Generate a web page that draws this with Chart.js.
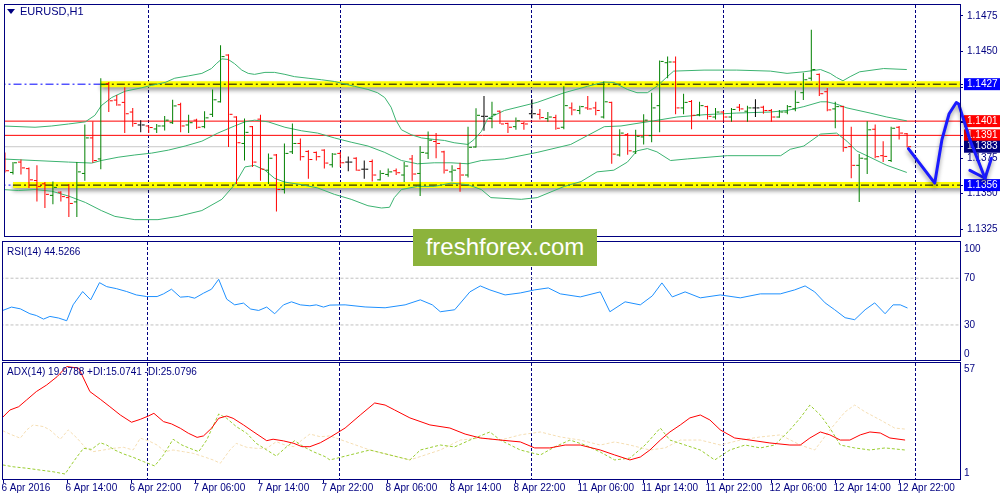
<!DOCTYPE html>
<html>
<head>
<meta charset="utf-8">
<script src="https://cdn.jsdelivr.net/npm/chart.js@4/dist/chart.umd.min.js"></script>
<style>
    html, body { margin: 0; padding: 0; background: #fff; }
    #wrap { position: relative; width: 1000px; height: 500px; overflow: hidden; font-family: "Liberation Sans", Arial, sans-serif; }
    #wrap canvas { position: absolute; left: 0; }
    .lbl { position: absolute; left: 7px; font-size: 10px; color: #000080; white-space: nowrap; line-height: 12px; }
    .tri { display: inline-block; width: 0; height: 0; border-left: 4px solid transparent; border-right: 4px solid transparent; border-top: 5px solid #000080; margin-right: 5px; vertical-align: 1px; }
    #wm { position: absolute; left: 413px; top: 229px; width: 184px; height: 37px; background: #8cb33c; color: #fff; font-size: 24px; line-height: 36px; text-align: center; z-index: 5; }
</style>
</head>
<body>
<div id="wrap">
    <canvas id="main" width="1000" height="241" style="top:0"></canvas>
    <canvas id="rsi" width="1000" height="120" style="top:241px"></canvas>
    <canvas id="adx" width="1000" height="138" style="top:362px"></canvas>
    <div class="lbl" style="top:5px;font-size:11px"><span class="tri"></span>EURUSD,H1</div>
    <div class="lbl" style="top:246px">RSI(14) 44.5266</div>
    <div class="lbl" style="top:366px">ADX(14) 19.9788 +DI:15.0741 -DI:25.0796</div>
    <div id="wm">freshforex.com</div>
</div>
<script>
(function () {
    "use strict";

    // EURUSD H1, bar 0 = 6 Apr 06:00, last bar = 12 Apr 23:00
    var open = [
        1.13767, 1.13649, 1.13722, 1.13676, 1.13592, 1.13569, 1.13488, 1.13510, 1.13472, 1.13442,
        1.13642, 1.13892, 1.13744, 1.14273, 1.14158, 1.14142, 1.14074, 1.13983, 1.13976, 1.13955,
        1.13976, 1.13999, 1.14126, 1.13983, 1.14017, 1.13971, 1.14058, 1.14146, 1.14475, 1.14039,
        1.13853, 1.13971, 1.14024, 1.13665, 1.13772, 1.13529, 1.13794, 1.13853, 1.13797, 1.13790,
        1.13806, 1.13703, 1.13783, 1.13722, 1.13749, 1.13672, 1.13726, 1.13597, 1.13635, 1.13661,
        1.13631, 1.13744, 1.13642, 1.13785, 1.13867, 1.13794, 1.13653, 1.13676, 1.13631, 1.13828,
        1.14044, 1.14028, 1.14080, 1.13994, 1.13971, 1.13994, 1.14062, 1.14058, 1.14028, 1.14035,
        1.13967, 1.14103, 1.14085, 1.14103, 1.14103, 1.14039, 1.14142, 1.13772, 1.13915, 1.13794,
        1.13899, 1.13908, 1.14119, 1.14421, 1.14426, 1.14103, 1.14148, 1.14055, 1.14112, 1.14039,
        1.14074, 1.14039, 1.14108, 1.14080, 1.14103, 1.14108, 1.14085, 1.14039, 1.14074, 1.14096,
        1.14210, 1.14312, 1.14339, 1.14217, 1.14096, 1.14112, 1.13831, 1.13699, 1.13744, 1.13953,
        1.13767, 1.13733, 1.13967, 1.13921
    ];
    var high = [
        1.13790, 1.13722, 1.13740, 1.13683, 1.13699, 1.13581, 1.13585, 1.13517, 1.13567, 1.13722,
        1.13987, 1.14008, 1.14312, 1.14285, 1.14194, 1.14248, 1.14103, 1.14017, 1.13980, 1.13990,
        1.14046, 1.14160, 1.14139, 1.14055, 1.14026, 1.14080, 1.14233, 1.14544, 1.14480, 1.14044,
        1.14028, 1.13976, 1.14055, 1.13783, 1.13778, 1.13853, 1.13994, 1.13887, 1.13806, 1.13797,
        1.13812, 1.13785, 1.13794, 1.13762, 1.13756, 1.13733, 1.13740, 1.13665, 1.13676, 1.13676,
        1.13722, 1.13772, 1.13835, 1.13937, 1.13926, 1.13801, 1.13699, 1.13717, 1.13971, 1.14101,
        1.14187, 1.14146, 1.14085, 1.13999, 1.14035, 1.14005, 1.14164, 1.14096, 1.14074, 1.14055,
        1.14255, 1.14142, 1.14119, 1.14187, 1.14146, 1.14289, 1.14146, 1.13953, 1.13926, 1.13949,
        1.14058, 1.14210, 1.14437, 1.14464, 1.14464, 1.14203, 1.14158, 1.14146, 1.14119, 1.14103,
        1.14080, 1.14103, 1.14130, 1.14119, 1.14164, 1.14119, 1.14096, 1.14089, 1.14124, 1.14226,
        1.14351, 1.14653, 1.14346, 1.14244, 1.14146, 1.14119, 1.13971, 1.13778, 1.14010, 1.13987,
        1.13869, 1.13971, 1.13976, 1.13926
    ];
    var low = [
        1.13649, 1.13635, 1.13635, 1.13540, 1.13445, 1.13399, 1.13426, 1.13445, 1.13336, 1.13336,
        1.13590, 1.13717, 1.13672, 1.14074, 1.14119, 1.13926, 1.13971, 1.13931, 1.13926, 1.13926,
        1.13944, 1.13990, 1.13931, 1.13926, 1.13955, 1.13960, 1.14039, 1.14142, 1.13828, 1.13567,
        1.13733, 1.13688, 1.13590, 1.13567, 1.13374, 1.13501, 1.13778, 1.13733, 1.13604, 1.13733,
        1.13676, 1.13683, 1.13688, 1.13658, 1.13661, 1.13604, 1.13585, 1.13592, 1.13619, 1.13631,
        1.13581, 1.13590, 1.13483, 1.13744, 1.13749, 1.13642, 1.13585, 1.13513, 1.13613, 1.13824,
        1.13942, 1.13960, 1.13990, 1.13926, 1.13949, 1.13949, 1.14028, 1.14021, 1.14005, 1.13949,
        1.13953, 1.14051, 1.14058, 1.14089, 1.14051, 1.14028, 1.13710, 1.13762, 1.13774, 1.13778,
        1.13846, 1.13862, 1.13931, 1.14312, 1.14058, 1.14058, 1.13953, 1.14044, 1.14021, 1.14021,
        1.14017, 1.14005, 1.14080, 1.14005, 1.14039, 1.14062, 1.14005, 1.14033, 1.14058, 1.14080,
        1.14158, 1.14294, 1.14187, 1.14080, 1.13960, 1.13794, 1.13608, 1.13442, 1.13638, 1.13749,
        1.13722, 1.13722, 1.13881, 1.13824
    ];
    var close = [
        1.13661, 1.13717, 1.13681, 1.13597, 1.13551, 1.13495, 1.13544, 1.13479, 1.13431, 1.13653,
        1.13892, 1.13733, 1.14267, 1.14153, 1.14124, 1.14062, 1.13994, 1.13983, 1.13965, 1.13976,
        1.14017, 1.14117, 1.13976, 1.13999, 1.13967, 1.14033, 1.14160, 1.14464, 1.14058, 1.13858,
        1.13931, 1.13722, 1.13672, 1.13749, 1.13529, 1.13783, 1.13853, 1.13760, 1.13740, 1.13760,
        1.13715, 1.13778, 1.13717, 1.13722, 1.13665, 1.13672, 1.13631, 1.13642, 1.13653, 1.13647,
        1.13694, 1.13638, 1.13790, 1.13876, 1.13853, 1.13665, 1.13665, 1.13631, 1.13826, 1.14051,
        1.14044, 1.14058, 1.13990, 1.13967, 1.14012, 1.13990, 1.14062, 1.14035, 1.14039, 1.13960,
        1.14119, 1.14089, 1.14112, 1.14096, 1.14085, 1.14146, 1.13778, 1.13926, 1.13801, 1.13903,
        1.14017, 1.14103, 1.14430, 1.14426, 1.14103, 1.14142, 1.14051, 1.14119, 1.14044, 1.14074,
        1.14039, 1.14092, 1.14096, 1.14103, 1.14103, 1.14085, 1.14039, 1.14074, 1.14112, 1.14142,
        1.14301, 1.14373, 1.14203, 1.14089, 1.14112, 1.13824, 1.13699, 1.13749, 1.13949, 1.13760,
        1.13762, 1.13960, 1.13926, 1.13830
    ];

    // Bollinger bands as [bar, price]
    var bbUpper = [
        [-0.4, 1.13976], [3.7, 1.13967], [5.8, 1.13976], [7.9, 1.13990], [10, 1.14005], [11.2, 1.14051],
        [12, 1.14119], [13.3, 1.14176], [15, 1.14221], [17, 1.14244], [18.3, 1.14262], [20, 1.14282],
        [21.2, 1.14312], [22.9, 1.14328], [24.6, 1.14346], [25.8, 1.14380], [26.4, 1.14414], [27.1, 1.14448],
        [27.9, 1.14444], [28.7, 1.14414], [29.6, 1.14369], [30.4, 1.14346], [31.2, 1.14339], [32.5, 1.14353],
        [33.7, 1.14353], [35, 1.14339], [36.2, 1.14323], [37.9, 1.14312], [39.6, 1.14301], [41.2, 1.14289],
        [42, 1.14278], [43.7, 1.14255], [45.4, 1.14233], [46.6, 1.14210], [47.5, 1.14176], [48.3, 1.14108],
        [48.9, 1.14017], [49.6, 1.13949], [50.8, 1.13915], [52.1, 1.13892], [53.7, 1.13881], [55, 1.13874],
        [56.2, 1.13858], [57.9, 1.13846], [58.7, 1.13881], [59.6, 1.13937], [60.4, 1.14028], [62.5, 1.14085],
        [66.6, 1.14142], [70, 1.14210], [72.9, 1.14255], [75, 1.14285], [76.2, 1.14282], [77.9, 1.14233],
        [79.1, 1.14210], [80.4, 1.14210], [81.6, 1.14255], [82.9, 1.14323], [83.7, 1.14362], [87.5, 1.14369],
        [91.6, 1.14369], [95.8, 1.14362], [97.9, 1.14346], [100, 1.14357], [102.1, 1.14373], [103.3, 1.14346],
        [104.1, 1.14317], [104.9, 1.14294], [105.8, 1.14323], [107, 1.14357], [110, 1.14380], [112.9, 1.14373]
    ];
    var bbMiddle = [
        [-0.4, 1.13744], [3.7, 1.13733], [7.9, 1.13722], [10.8, 1.13715], [12, 1.13733], [14.1, 1.13756],
        [16.2, 1.13772], [18.3, 1.13785], [20.4, 1.13806], [22.5, 1.13835], [24.6, 1.13869], [26.6, 1.13926],
        [28.7, 1.13976], [30, 1.14005], [31.2, 1.14017], [32.9, 1.14005], [35, 1.13967], [37.1, 1.13942],
        [39.1, 1.13926], [41.2, 1.13892], [43.3, 1.13862], [45.4, 1.13835], [47.5, 1.13790], [49.6, 1.13733],
        [51.6, 1.13710], [53.7, 1.13717], [55.8, 1.13717], [57.9, 1.13710], [59.6, 1.13733], [62.5, 1.13744],
        [66.6, 1.13790], [70.8, 1.13846], [75, 1.13971], [77.1, 1.13976], [79.1, 1.13994], [81.2, 1.14012],
        [84.1, 1.14039], [87.5, 1.14055], [91.6, 1.14067], [95.8, 1.14074], [97.9, 1.14085], [100, 1.14112],
        [102.1, 1.14146], [102.9, 1.14146], [104.1, 1.14130], [105.4, 1.14103], [108.3, 1.14067],
        [110.4, 1.14039], [112.9, 1.14012]
    ];
    var bbLower = [
        [-0.4, 1.13529], [1.6, 1.13522], [3.7, 1.13529], [5.8, 1.13517], [7.9, 1.13483], [10, 1.13438],
        [12, 1.13381], [13.7, 1.13340], [16.2, 1.13317], [19.1, 1.13317], [21.6, 1.13340], [24.6, 1.13381],
        [27.1, 1.13460], [28.7, 1.13563], [30, 1.13688], [31.2, 1.13699], [32.5, 1.13665], [33.7, 1.13608],
        [35, 1.13581], [37.1, 1.13563], [39.1, 1.13540], [41.2, 1.13495], [43.3, 1.13460], [45.4, 1.13415],
        [47.1, 1.13399], [48.1, 1.13404], [48.7, 1.13472], [49.6, 1.13529], [51.6, 1.13551], [53.7, 1.13551],
        [55.8, 1.13574], [57.9, 1.13563], [59.6, 1.13529], [60.8, 1.13472], [64.6, 1.13460], [66.6, 1.13472],
        [70, 1.13551], [72.1, 1.13585], [74.1, 1.13653], [76.2, 1.13665], [77.9, 1.13722], [79.1, 1.13801],
        [80.4, 1.13817], [81.6, 1.13794], [83.3, 1.13733], [85.4, 1.13744], [90.4, 1.13767], [97.1, 1.13767],
        [98.3, 1.13812], [100, 1.13835], [102.1, 1.13919], [104.1, 1.13926], [105.4, 1.13869],
        [106.6, 1.13801], [108.3, 1.13756], [110.4, 1.13699], [112.9, 1.13649]
    ];

    var rsi = [
        [-0.1, 42.4], [1, 45.3], [2.1, 43.8], [3.3, 39.6], [4.1, 38.1], [5, 35], [5.8, 37.3], [6.9, 35.9],
        [7.9, 33.6], [8.7, 47.2], [9.9, 58.6], [10.9, 51.5], [12, 66.2], [12.9, 62.8], [14.1, 61.1],
        [15.4, 58.6], [16.6, 55.7], [17.9, 54.3], [19.2, 54.3], [20, 56.6], [21, 60.6], [22.1, 53.8],
        [23.1, 54.3], [23.9, 52.9], [25, 57.2], [26, 60.6], [26.9, 69.1], [27.9, 52.1], [28.9, 47.2],
        [30, 48.7], [30.9, 43.6], [31.9, 42.4], [32.9, 45.3], [33.9, 39.6], [35, 47.2], [36, 49.8],
        [37.1, 47.2], [38.3, 46.4], [39.1, 47.2], [40, 45.3], [40.8, 47], [42.7, 47.2], [45.2, 45.4],
        [47.7, 44.7], [50.2, 47.2], [52.1, 51.5], [53.6, 47.2], [54.6, 41.3], [56.4, 43], [58.3, 58.3],
        [59.6, 63.4], [60.8, 60], [62.7, 55.7], [64.6, 57.4], [66.4, 60], [68.1, 61.7], [69.6, 56.6],
        [72.1, 54], [74.6, 58.3], [75.8, 41.3], [77.7, 49.8], [79.6, 47.2], [81.1, 54.9], [82.3, 66],
        [83.6, 54], [85.2, 58.3], [87.1, 53.2], [89.6, 55.7], [92.1, 53.2], [94.6, 56.6], [97.1, 56.6],
        [98.9, 60], [100.2, 63.4], [101.4, 58.3], [102.7, 48.9], [103.9, 43], [105.2, 36.2], [106.4, 34.5],
        [107.7, 43], [108.9, 48.9], [110.2, 39.6], [111.2, 47.2], [112.1, 47.2], [113, 44.5]
    ];
    var adx = [
        [-0.1, 30.8], [0.8, 34.3], [1.9, 35.9], [2.9, 39.2], [4.1, 43.2], [5.4, 46.4], [6.7, 50.4],
        [7.9, 55.3], [9.4, 54.5], [10.8, 43.2], [12.1, 39.5], [13.3, 35.9], [14.6, 31.9], [16, 28.4],
        [17.1, 29.8], [18.1, 31.4], [18.8, 32.7], [20, 28.7], [21, 27.6], [22.1, 25.5], [23.1, 23.1],
        [24.2, 21.1], [25, 21.8], [26, 25.5], [26.9, 30.3], [27.9, 31.4], [28.7, 30.3], [30, 27.1],
        [31.2, 23.9], [32.9, 19.5], [33.7, 20.2], [35, 19.4], [36.3, 18.2], [37.3, 16.6], [38.3, 16.6],
        [39.6, 18.5], [40.8, 21.1], [42.7, 25.6], [44.6, 31.9], [46.4, 37.7], [47.7, 36.7], [48.9, 34.3],
        [50.8, 30.5], [53.3, 27.1], [55.8, 25.6], [57.7, 22.7], [59.6, 20.8], [62.1, 19.8], [64.6, 18.9],
        [66.4, 16], [68.3, 16], [70.2, 17.4], [72.1, 17.4], [74.6, 15], [76.4, 12.6], [78.3, 10.2],
        [79.6, 11.6], [80.8, 15], [82.1, 19.8], [83.3, 23.7], [84.6, 27.1], [85.8, 30.5], [87.1, 31.9],
        [88.3, 29.5], [89.6, 24.7], [91.4, 20.8], [93.3, 19.8], [95.8, 18.4], [98.3, 17.4], [99.6, 17.4],
        [100.8, 20.8], [102.1, 23.7], [103.3, 22.3], [104.6, 19.8], [105.8, 19.8], [107.1, 22.3],
        [108.3, 23.7], [109.6, 23.2], [110.8, 20.8], [112.7, 19.8]
    ];
    var plusDI = [
        [-0.1, 7.8], [1.2, 6.9], [2.9, 6.2], [4.6, 5.3], [6.2, 4.5], [7.7, 3.4], [8.3, 6.9], [9.2, 11.8],
        [10, 15.8], [11, 15.3], [12.1, 18.5], [12.9, 17.4], [13.9, 15], [15, 13.1], [16.2, 11.5], [17.5, 9.4],
        [18.9, 7.3], [20, 12.6], [21.2, 20.2], [22.3, 17.4], [23.3, 15.8], [24.4, 14.2], [25.4, 19.8],
        [26.9, 32.4], [27.9, 30.3], [29.1, 26.3], [30.4, 23.1], [31.6, 18.2], [32.9, 15], [34.1, 12.1],
        [35.4, 16.6], [36.4, 19.5], [37.5, 16.6], [38.7, 14.2], [40.2, 11.8], [40.8, 10.2], [43.3, 12.6],
        [45.8, 15], [48.3, 12.6], [50.8, 10.2], [52.1, 15], [54.6, 17.4], [56.4, 16.5], [58.3, 19.8],
        [60.8, 23.7], [62.1, 19.8], [64.6, 15], [67.1, 12.6], [68.9, 16.5], [70.8, 19.8], [72.7, 17.4],
        [74.6, 14], [76.4, 10.2], [78.3, 11.1], [80.2, 17.4], [82.1, 25.6], [83.3, 19.8], [85.2, 17.4],
        [87.1, 15], [88.9, 10.2], [90.8, 15], [92.7, 17.4], [94.6, 16], [96.4, 17.4], [98.3, 24.7],
        [99.6, 30.5], [100.8, 36.7], [102.1, 31.9], [103.3, 25.6], [104.6, 17.4], [106.4, 16], [108.3, 15],
        [110.2, 16], [112.7, 15]
    ];
    var minusDI = [
        [-0.1, 24.3], [0.8, 22.7], [2.1, 20.7], [2.9, 24.7], [3.7, 27.1], [5, 26.3], [5.8, 24.7],
        [7.1, 20.2], [8.1, 24.7], [9.2, 20.7], [10.2, 16.3], [11.2, 14.2], [12.5, 15], [13.7, 15.8],
        [15, 16.3], [16.2, 15], [17.1, 20.7], [18.1, 19.5], [19.2, 17.4], [20.2, 14.2], [21.2, 15],
        [22.5, 14.2], [23.7, 13.4], [25, 11.8], [26.2, 10.2], [27.1, 8.6], [28.3, 15], [29.1, 18.2],
        [30.4, 16.3], [31.6, 15.8], [32.9, 15.8], [34.1, 19], [35.2, 17.4], [36.3, 16.6], [37.3, 19.8],
        [38.3, 22.7], [39.6, 21.4], [40.8, 21.8], [43.3, 18.4], [45.8, 15], [48.3, 12.6], [50.8, 10.2],
        [52.7, 12.6], [54.6, 15], [57.1, 19.8], [59.6, 20.8], [62.1, 19.8], [64.6, 22.3], [67.1, 23.7],
        [69.6, 21.3], [72.1, 19.8], [74.6, 17.4], [76.4, 18.9], [78.3, 17.4], [80.8, 15], [82.7, 16],
        [84.6, 19.8], [87.1, 19.8], [89.6, 17.4], [92.1, 19.8], [94.6, 21.3], [97.1, 22.3], [99.6, 17.4],
        [101.4, 15], [103.3, 24.7], [105.2, 33.4], [106.4, 36.7], [107.7, 33.4], [109.6, 29.5],
        [111.4, 25.6], [112.7, 25.1]
    ];

    // analyst drawings
    var bandLevels = [1.1427, 1.1356];
    var bandStartBar = [12, 1];
    var redLevels = [1.1401, 1.1391];
    var bidLevel = 1.1383;
    var arrowPath = [
        [113.1, 1.13817], [116.4, 1.13574], [117.3, 1.13880], [118.2, 1.14062], [119.1, 1.14141],
        [119.4, 1.14130], [120.8, 1.13880], [122.7, 1.13608]
    ];
    var arrowHead = [[120.8, 1.13664], [122.7, 1.13608], [123.5, 1.13749]];

    var priceTicks = [1.1325, 1.1350, 1.1375, 1.1400, 1.1425, 1.1450, 1.1475];
    var markTicks = [1.1427, 1.1401, 1.1391, 1.1383, 1.1356];
    var rsiTicks = [0, 30, 70, 100];
    var adxTicks = [1, 57];
    var xTickBars = [0, 8, 16, 24, 32, 40, 48, 56, 64, 72, 80, 88, 96, 104, 112];
    var xTickLabels = [
        "6 Apr 2016", "6 Apr 14:00", "6 Apr 22:00", "7 Apr 06:00", "7 Apr 14:00", "7 Apr 22:00",
        "8 Apr 06:00", "8 Apr 14:00", "8 Apr 22:00", "11 Apr 06:00", "11 Apr 14:00", "11 Apr 22:00",
        "12 Apr 06:00", "12 Apr 14:00", "12 Apr 22:00"
    ];
    var dayStarts = [18, 42, 66, 90, 114];

    var NAVY = "#000080";
    var X_MIN = -0.0625, X_MAX = 119.5625;
    var FONT = { family: "'Liberation Sans', Arial, sans-serif", size: 10, lineHeight: 1 };
    var markColors = ["#0000ff", "#ff0000", "#ff0000", "#000080", "#0000ff"];

    function pts(arr) {
        return arr.map(function (p) { return { x: p[0], y: p[1] }; });
    }
    function barColor(i) {
        if (close[i] > open[i]) return "#008000";
        if (close[i] < open[i]) return "#ff0000";
        return "#000000";
    }
    function hline(v, from, color, width, dash, order, extra) {
        var ds = {
            type: "line",
            data: [{ x: from, y: v }, { x: 300, y: v }],
            borderColor: color,
            borderWidth: width,
            borderDash: dash || [],
            pointRadius: 0,
            order: order
        };
        return Object.assign(ds, extra || {});
    }
    // keep the panels edge to edge: no extra room reserved for half labels
    function noPad(s) {
        s.paddingTop = 0;
        s.paddingBottom = 0;
        s.paddingLeft = 0;
        s.paddingRight = 0;
    }
    function yFit(s) {
        s.width = 40;
        noPad(s);
    }
    function xScale(show) {
        return {
            type: "linear",
            min: X_MIN,
            max: X_MAX,
            offset: false,
            display: show,
            grid: { display: show, drawOnChartArea: false, drawTicks: true, tickLength: 4, tickColor: NAVY, offset: false },
            border: { display: show, color: NAVY },
            afterBuildTicks: function (s) {
                s.ticks = xTickBars.map(function (v) { return { value: v }; });
            },
            afterFit: function (s) {
                if (show) s.height = 21;
                noPad(s);
            },
            ticks: {
                autoSkip: false,
                maxRotation: 0,
                align: "start",
                labelOffset: -2,
                padding: 0,
                color: NAVY,
                font: FONT,
                callback: function (v, i) { return xTickLabels[i]; }
            }
        };
    }
    // labels at the panel edges sit ~6px inside, as the terminal draws them
    function insetTicks(vals, panelPx) {
        return function (s) {
            var per = (s.max - s.min) / panelPx;
            s.ticks = vals.map(function (v, i) {
                var t = v;
                if (i === 0) t = v + 6 * per;
                if (i === vals.length - 1) t = v - 6 * per;
                return { value: t };
            });
        };
    }

    var shadowPlugin = {
        id: "shadow",
        beforeDatasetDraw: function (chart, args) {
            var ds = chart.data.datasets[args.index];
            if (!ds.shadow) return;
            var ctx = chart.ctx;
            ctx.save();
            ctx.shadowColor = "rgba(0,0,0,0.4)";
            ctx.shadowBlur = 4;
            ctx.shadowOffsetY = 3;
        },
        afterDatasetDraw: function (chart, args) {
            if (chart.data.datasets[args.index].shadow) chart.ctx.restore();
        }
    };
    var framePlugin = {
        id: "frame",
        beforeDatasetsDraw: function (chart) {
            var a = chart.chartArea, ctx = chart.ctx, x = chart.scales.x;
            ctx.save();
            ctx.strokeStyle = NAVY;
            ctx.lineWidth = 1;
            ctx.setLineDash([3, 2]);
            dayStarts.forEach(function (d) {
                var px = Math.round(x.getPixelForValue(d)) - 0.5;
                ctx.beginPath();
                ctx.moveTo(px, a.top);
                ctx.lineTo(px, a.bottom);
                ctx.stroke();
            });
            ctx.restore();
        },
        afterDraw: function (chart) {
            var a = chart.chartArea, ctx = chart.ctx;
            ctx.save();
            ctx.strokeStyle = NAVY;
            ctx.lineWidth = 1;
            ctx.strokeRect(Math.round(a.left) - 0.5, Math.round(a.top) - 0.5,
                Math.round(a.right - a.left) + 1, Math.round(a.bottom - a.top) + 1);
            ctx.restore();
        }
    };

    var common = {
        responsive: false,
        animation: false,
        events: [],
        plugins: { legend: { display: false }, tooltip: { enabled: false } }
    };

    // main price panel
    var idx = close.map(function (c, i) { return i; });
    var mainSets = [
        {
            type: "bar",
            data: idx.map(function (i) { return { x: i, y: [low[i], high[i]] }; }),
            backgroundColor: idx.map(barColor),
            barThickness: 1,
            borderWidth: 0,
            inflateAmount: 0,
            order: 2
        },
        {
            type: "line",
            data: idx.map(function (i) { return { x: i - 0.25, y: open[i] }; }),
            showLine: false,
            pointStyle: "line",
            pointRadius: 1.5,
            pointBorderWidth: 1,
            pointBorderColor: idx.map(barColor),
            order: 1
        },
        {
            type: "line",
            data: idx.map(function (i) { return { x: i + 0.25, y: close[i] }; }),
            showLine: false,
            pointStyle: "line",
            pointRadius: 1.5,
            pointBorderWidth: 1,
            pointBorderColor: idx.map(barColor),
            order: 1
        }
    ];
    [bbUpper, bbMiddle, bbLower].forEach(function (b) {
        mainSets.push({ type: "line", data: pts(b), borderColor: "#3cb371", borderWidth: 1, pointRadius: 0, order: 4 });
    });
    bandLevels.forEach(function (v, k) {
        mainSets.push(hline(v, -1, "#0000ff", 1, [8, 3, 2, 3], 9));
        mainSets.push(hline(v, bandStartBar[k] - 0.06, "#ffff00", 6, null, 8, { shadow: true, borderCapStyle: "butt" }));
        mainSets.push(hline(v, bandStartBar[k] - 0.06, "#000000", 1, [8, 3, 2, 3], 7));
    });
    redLevels.forEach(function (v) {
        mainSets.push(hline(v, -1, "#ff0000", 1, null, 6));
    });
    mainSets.push(hline(bidLevel, -1, "#c8c8c8", 1, null, 6));
    // the forecast arrow runs past the last bar into the price scale, so it uses
    // an axis without user bounds (no clipping of points beyond the visible range)
    [arrowPath, arrowHead].forEach(function (a) {
        mainSets.push({
            type: "line", data: pts(a), xAxisID: "xa", borderColor: "#1a1aff", borderWidth: 3,
            borderJoinStyle: "round", borderCapStyle: "round", pointRadius: 0, clip: false, shadow: true, order: 0
        });
    });

    new Chart(document.getElementById("main"), {
        type: "line",
        data: { datasets: mainSets },
        plugins: [shadowPlugin, framePlugin],
        options: Object.assign({}, common, {
            layout: { padding: { left: 3, top: 1, bottom: 2, right: 0 } },
            scales: {
                x: xScale(false),
                xa: {
                    type: "linear",
                    display: false,
                    bounds: "data",
                    offset: false,
                    afterDataLimits: function (s) { s.min = X_MIN; s.max = X_MAX; }
                },
                y: {
                    type: "linear",
                    position: "right",
                    min: 1.13202,
                    max: 1.14827,
                    beginAtZero: false,
                    grid: { drawOnChartArea: false, drawTicks: true, tickLength: 3, tickColor: NAVY },
                    border: { display: true, color: NAVY },
                    afterFit: yFit,
                    afterBuildTicks: function (s) {
                        s.ticks = priceTicks.concat(markTicks).map(function (v) { return { value: v }; });
                    },
                    ticks: {
                        autoSkip: false,
                        padding: 4,
                        font: FONT,
                        showLabelBackdrop: true,
                        backdropPadding: { left: 3, right: 4, top: 1, bottom: 1 },
                        backdropColor: function (c) {
                            var k = c.index - priceTicks.length;
                            return k >= 0 ? markColors[k] : "rgba(0,0,0,0)";
                        },
                        color: function (c) {
                            return c.index >= priceTicks.length ? "#ffffff" : NAVY;
                        },
                        callback: function (v) { return v.toFixed(4); }
                    }
                }
            }
        })
    });

    // RSI panel
    new Chart(document.getElementById("rsi"), {
        type: "line",
        data: {
            datasets: [
                { data: pts(rsi), borderColor: "#1e90ff", borderWidth: 1, pointRadius: 0, order: 1 },
                hline(70, -1, "#c0c0c0", 1, [3, 2], 5),
                hline(30, -1, "#c0c0c0", 1, [3, 2], 5)
            ]
        },
        plugins: [framePlugin],
        options: Object.assign({}, common, {
            layout: { padding: { left: 3, top: 1, bottom: 1, right: 0 } },
            scales: {
                x: xScale(false),
                y: {
                    type: "linear",
                    position: "right",
                    min: 0,
                    max: 101,
                    grid: { drawOnChartArea: false, drawTicks: false },
                    border: { display: true, color: NAVY },
                    afterFit: yFit,
                    afterBuildTicks: insetTicks(rsiTicks, 118),
                    ticks: {
                        autoSkip: false, padding: 4, font: FONT, color: NAVY,
                        callback: function (v, i) { return String(rsiTicks[i]); }
                    }
                }
            }
        })
    });

    // ADX panel
    new Chart(document.getElementById("adx"), {
        type: "line",
        data: {
            datasets: [
                { data: pts(adx), borderColor: "#ff0000", borderWidth: 1, pointRadius: 0, order: 1 },
                { data: pts(plusDI), borderColor: "#9acd32", borderWidth: 1, borderDash: [3, 2], pointRadius: 0, order: 2 },
                { data: pts(minusDI), borderColor: "#f5deb3", borderWidth: 1, borderDash: [3, 2], pointRadius: 0, order: 3 }
            ]
        },
        plugins: [framePlugin],
        options: Object.assign({}, common, {
            layout: { padding: { left: 3, top: 1, bottom: 0, right: 0 } },
            scales: {
                x: xScale(true),
                y: {
                    type: "linear",
                    position: "right",
                    min: 1,
                    max: 57,
                    grid: { drawOnChartArea: false, drawTicks: false },
                    border: { display: true, color: NAVY },
                    afterFit: yFit,
                    afterBuildTicks: insetTicks(adxTicks, 116),
                    ticks: {
                        autoSkip: false, padding: 4, font: FONT, color: NAVY,
                        callback: function (v, i) { return String(adxTicks[i]); }
                    }
                }
            }
        })
    });
})();
</script>
</body>
</html>
